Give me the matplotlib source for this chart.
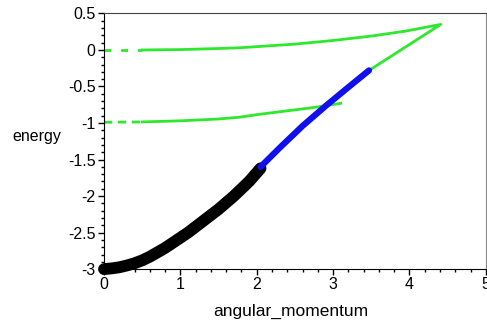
import matplotlib
matplotlib.use("Agg")
import matplotlib.pyplot as plt
from matplotlib.ticker import MultipleLocator

plt.rcParams['font.family'] = ['Liberation Sans', 'DejaVu Sans']

# black branch
black_x = [0.0, 0.1, 0.2, 0.3, 0.4, 0.5, 0.6, 0.7, 0.8, 0.9, 1.0, 1.1, 1.2,
           1.3, 1.4, 1.5, 1.6, 1.7, 1.8, 1.9, 2.0, 2.05]
black_y = [-3.0, -2.99, -2.975, -2.95, -2.92, -2.88, -2.83, -2.77, -2.71, -2.64,
           -2.57, -2.50, -2.42, -2.34, -2.26, -2.18, -2.09, -2.00, -1.90, -1.80,
           -1.68, -1.62]

# blue branch
blue_x = [2.05, 2.3, 2.6, 2.91, 3.2, 3.47]
blue_y = [-1.60, -1.34, -1.04, -0.76, -0.51, -0.28]

# green upper branch (0,0) -> cusp -> down along blue
green1_x = [0.0, 0.5, 1.0, 1.5, 1.78, 2.5, 3.0, 3.5, 3.96, 4.41, 3.47, 3.2, 2.91, 2.6, 2.3, 2.1]
green1_y = [0.0, 0.0, 0.005, 0.02, 0.03, 0.08, 0.13, 0.19, 0.26, 0.35, -0.28, -0.51, -0.76, -1.04, -1.34, -1.55]

# green lower branch
green2_x = [0.0, 0.5, 1.0, 1.5, 1.78, 2.04, 2.5, 2.8, 3.1]
green2_y = [-0.99, -0.985, -0.97, -0.945, -0.92, -0.88, -0.82, -0.78, -0.73]

fig = plt.figure(figsize=(4.87, 3.2), dpi=100)
ax = fig.add_axes([0.2136, 0.159, 0.784, 0.799])

green = '#2ee82e'
# sparse dashed start, then solid
ax.plot(green1_x[:2], green1_y[:2], color=green, lw=2.0, dashes=(2.5, 3.5), zorder=2)
ax.plot(green1_x[1:], green1_y[1:], color=green, lw=2.0, zorder=2)
ax.plot(green2_x[:2], green2_y[:2], color=green, lw=2.0, dashes=(3, 2), zorder=2)
ax.plot(green2_x[1:], green2_y[1:], color=green, lw=2.0, zorder=2)
ax.plot(black_x, black_y, color='black', lw=8.5, solid_capstyle='round',
        solid_joinstyle='round', zorder=3, clip_on=False)
ax.plot(blue_x, blue_y, color='#1010ee', lw=4.5, solid_capstyle='round',
        solid_joinstyle='round', zorder=4)

ax.set_xlim(0, 5)
ax.set_ylim(-3, 0.5)
ax.xaxis.set_major_locator(MultipleLocator(1))
ax.xaxis.set_minor_locator(MultipleLocator(0.2))
ax.yaxis.set_major_locator(MultipleLocator(0.5))
ax.yaxis.set_minor_locator(MultipleLocator(0.1))
ax.tick_params(which='major', direction='out', length=4, width=1, labelsize=11.5, colors='black')
ax.tick_params(which='minor', direction='out', length=2, width=1)
ax.tick_params(axis='x', pad=2)
ax.tick_params(axis='y', pad=2)

def fmt(v, pos):
    return '%g' % v
ax.xaxis.set_major_formatter(plt.FuncFormatter(fmt))
ax.yaxis.set_major_formatter(plt.FuncFormatter(fmt))

ax.spines['left'].set_color('black')
ax.spines['bottom'].set_color('black')
ax.spines['top'].set_color('#444444')
ax.spines['right'].set_color('#888888')

ax.set_xlabel('angular_momentum', fontsize=12.5)
ax.xaxis.set_label_coords(0.49, -0.135)
ax.set_ylabel('energy', fontsize=11.5, rotation=0)
ax.yaxis.set_label_coords(-0.175, 0.49)

fig.savefig('out.png', dpi=100)
